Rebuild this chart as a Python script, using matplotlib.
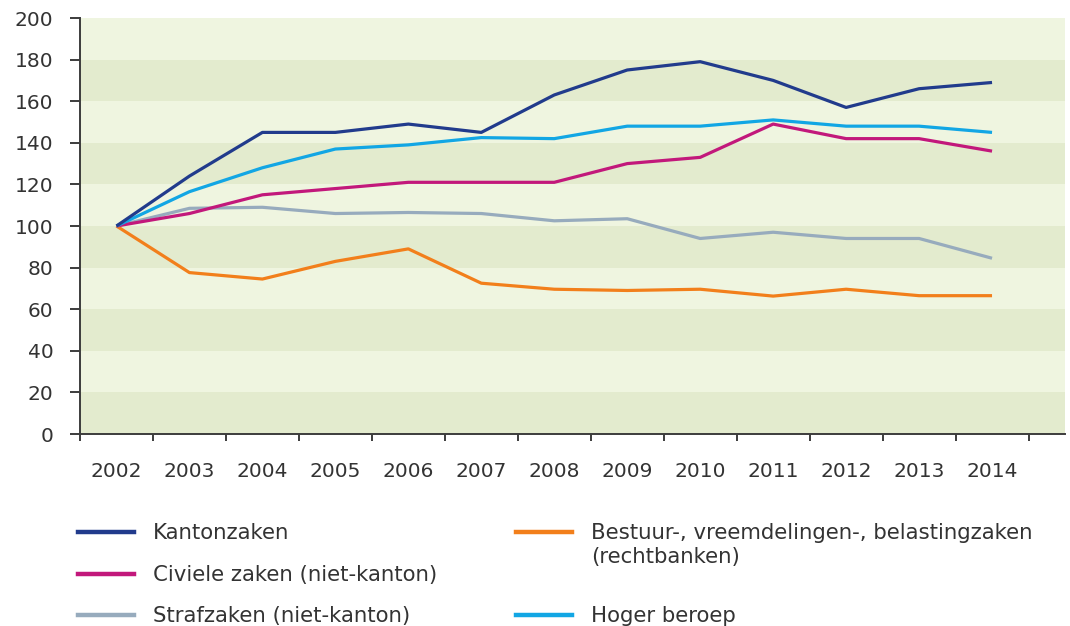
import matplotlib
matplotlib.use("Agg")
import matplotlib.pyplot as plt
from matplotlib.lines import Line2D
import numpy as np

plt.rcParams['font.family'] = ['DejaVu Sans']

years = ['2002', '2003', '2004', '2005', '2006', '2007', '2008',
         '2009', '2010', '2011', '2012', '2013', '2014']
kanton = [100, 124, 145, 145, 149, 145, 163, 175, 179, 170, 157, 166, 169]
civiele = [100, 106, 115, 118, 121, 121, 121, 130, 133, 149, 142, 142, 136]
straf = [100, 108.5, 109, 106, 106.5, 106, 102.5, 103.5, 94, 97, 94, 94, 84.5]
bestuur = [100, 77.6, 74.5, 83, 89, 72.5, 69.6, 69, 69.6, 66.3, 69.6, 66.5, 66.5]
hoger = [100, 116.5, 128, 137, 139, 142.5, 142, 148, 148, 151, 148, 148, 145]

labels = ['Kantonzaken', 'Civiele zaken (niet-kanton)', 'Strafzaken (niet-kanton)',
          ['Bestuur-, vreemdelingen-, belastingzaken', '(rechtbanken)'], 'Hoger beroep']
colors = ['#213b8c', '#c2187b', '#97abbd', '#f27f1b', '#12a6e4']
series = [kanton, civiele, straf, bestuur, hoger]

fig = plt.figure(figsize=(10.7, 6.26), dpi=100)
ax = fig.add_axes([80/1070, 1-434/626, (1065-80)/1070, (434-18)/626])

light = '#eff5e0'
dark = '#e3ebce'
for k in range(10):
    ax.axhspan(k*20, (k+1)*20, color=(dark if k % 2 == 0 else light), lw=0, zorder=0)

x = np.arange(len(years)) + 0.5
order = [2, 3, 1, 4, 0]
for i in order:
    ax.plot(x, series[i], color=colors[i], lw=2.3, zorder=3, solid_capstyle='butt')

ax.set_xlim(0, len(years) + 0.5)
ax.set_ylim(0, 200)
ax.set_yticks(np.arange(0, 201, 20))
ax.set_xticks(np.arange(0, len(years) + 1))
ax.set_xticklabels([])
ax.set_xticks(x, minor=True)
ax.set_xticklabels(years, minor=True)

for s in ['top', 'right']:
    ax.spines[s].set_visible(False)
for s in ['left', 'bottom']:
    ax.spines[s].set_color('#3c3c3c')
    ax.spines[s].set_linewidth(1.4)

ax.tick_params(axis='y', which='major', direction='out', length=7, width=1.4,
               color='#3c3c3c', labelsize=14.5, labelcolor='#333333', pad=12)
ax.tick_params(axis='x', which='major', direction='out', length=5, width=1.4,
               color='#3c3c3c')
ax.tick_params(axis='x', which='minor', length=0, labelsize=14.5,
               labelcolor='#333333', pad=20)

# Legend (manual, two columns)
W, H = 1070, 626
def legend_line(x0, y, color):
    fig.add_artist(Line2D([x0/W, (x0+56)/W], [1-y/H, 1-y/H], color=color, lw=3.2,
                          transform=fig.transFigure))

def legend_text(x0, baseline, label):
    fig.text(x0/W, 1-baseline/H, label, fontsize=15.3, color='#333333',
             ha='left', va='baseline')

legend_line(78, 532, colors[0]); legend_text(153, 539, labels[0])
legend_line(78, 574, colors[1]); legend_text(153, 581, labels[1])
legend_line(78, 615, colors[2]); legend_text(153, 622, labels[2])
legend_line(516, 532, colors[3])
legend_text(591, 539, labels[3][0]); legend_text(591, 563, labels[3][1])
legend_line(516, 615, colors[4]); legend_text(591, 622, labels[4])

fig.savefig('out.png', dpi=100)
